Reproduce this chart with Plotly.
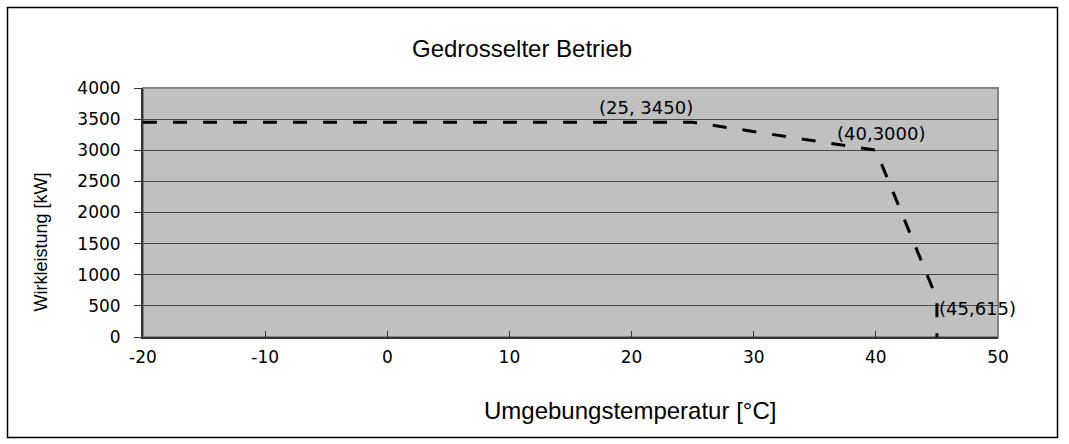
import plotly.graph_objects as go

# Data
temperature = [-20, 25, 40, 45, 45]
power = [3450, 3450, 3000, 615, 0]
label_x = [25, 40, 45]
label_y = [3450, 3000, 615]
label_text = ["(25, 3450)", "(40,3000)", "(45,615)"]
x_ticks = [-20, -10, 0, 10, 20, 30, 40, 50]
y_ticks = [0, 500, 1000, 1500, 2000, 2500, 3000, 3500, 4000]

W, H = 1069, 444
L, R, T, B = 143, 71, 88, 107
pw, ph = W - L - R, H - T - B

def px(x):
    return (x - L) / pw

def py(y):
    return (H - B - y) / ph

fig = go.Figure()
fig.add_trace(go.Scatter(
    x=temperature, y=power, mode="lines",
    line=dict(color="black", width=3, dash="14px,16px"),
    hoverinfo="skip", showlegend=False,
))

font = "DejaVu Sans, Liberation Sans, Arial"
ann = []
# data labels: (xanchor, xshift, yshift)
placement = [("right", 2, 15), ("left", -41, 17), ("left", 0, -10)]
for lx, ly, t, (xa, xs, ys) in zip(label_x, label_y, label_text, placement):
    ann.append(dict(x=lx, y=ly, xref="x", yref="y", text=t, showarrow=False,
                    xanchor=xa, yanchor="middle", xshift=xs, yshift=ys,
                    font=dict(family=font, size=18, color="black")))
ann.append(dict(x=px(522), y=py(48), xref="paper", yref="paper",
                text="Gedrosselter Betrieb", showarrow=False,
                xanchor="center", yanchor="middle",
                font=dict(family="Liberation Sans, Arial", size=24, color="black")))
ann.append(dict(x=px(630), y=py(410), xref="paper", yref="paper",
                text="Umgebungstemperatur [°C]", showarrow=False,
                xanchor="center", yanchor="middle",
                font=dict(family="Liberation Sans, Arial", size=24, color="black")))
ann.append(dict(x=px(40.5), y=py(242), xref="paper", yref="paper",
                text="Wirkleistung [kW]", showarrow=False, textangle=-90,
                xanchor="center", yanchor="middle",
                font=dict(family="Liberation Sans, Arial", size=18, color="black")))

shapes = [
    dict(type="rect", xref="paper", yref="paper",
         x0=px(7.5), x1=px(1057.5), y0=py(437.5), y1=py(7.5),
         line=dict(color="black", width=1.5), fillcolor="rgba(0,0,0,0)", layer="below"),
    dict(type="rect", xref="paper", yref="paper", x0=0, x1=1, y0=0, y1=1,
         line=dict(color="#858585", width=2), fillcolor="rgba(0,0,0,0)", layer="below"),
]

fig.update_layout(
    width=W, height=H,
    margin=dict(l=L, r=R, t=T, b=B, pad=0),
    paper_bgcolor="white", plot_bgcolor="#C0C0C0",
    showlegend=False,
    annotations=ann, shapes=shapes,
    xaxis=dict(range=[-20, 50], tickvals=x_ticks, ticktext=[str(v) for v in x_ticks],
               showgrid=False, zeroline=False, showline=True, linecolor="#333333", linewidth=2,
               ticks="inside", ticklen=6, tickcolor="#333333", tickwidth=1,
               ticklabelstandoff=4,
               tickfont=dict(family=font, size=17, color="black"), fixedrange=True),
    yaxis=dict(range=[0, 4000], tickvals=y_ticks, ticktext=[str(v) for v in y_ticks],
               showgrid=True, gridcolor="#4a4a4a", gridwidth=1, zeroline=False,
               showline=True, linecolor="#333333", linewidth=2,
               ticks="outside", ticklen=7, tickcolor="#333333", tickwidth=1,
               ticklabelstandoff=10,
               tickfont=dict(family=font, size=17, color="black"), fixedrange=True),
)

fig.write_html(
    "out.html",
    config={"displayModeBar": False},
    post_script="document.body.style.margin='0';document.body.style.overflow='hidden';",
)
